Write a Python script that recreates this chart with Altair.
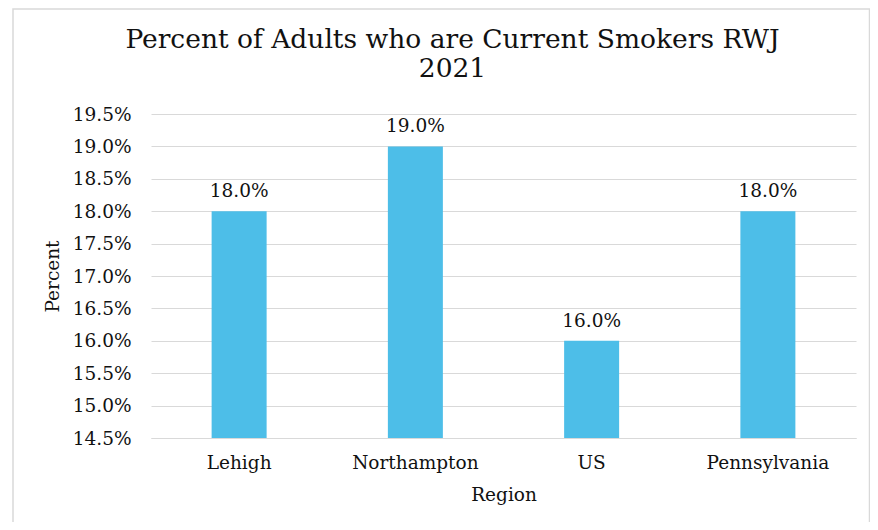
import altair as alt
import pandas as pd

regions = ["Lehigh", "Northampton", "US", "Pennsylvania"]
values = [0.18, 0.19, 0.16, 0.18]
y_ticks = [0.145, 0.15, 0.155, 0.16, 0.165, 0.17, 0.175, 0.18, 0.185, 0.19, 0.195]

df = pd.DataFrame({"Region": regions, "Percent": values})

FONT = "DejaVu Serif"
GRID = "#d9d9d9"
TXT = "#111111"

x_axis = alt.Axis(
    title="Region",
    labelAngle=0,
    ticks=False,
    domainColor=GRID,
    labelPadding=15,
    titleY=62,
    titleBaseline="alphabetic",
)
y_axis = alt.Axis(
    title="Percent",
    values=y_ticks,
    format=".1%",
    domain=False,
    ticks=False,
    gridColor=GRID,
    labelPadding=20,
    labelOverlap=False,
    titleX=-93,
    titleY=162,
    titleAngle=-90,
    titleBaseline="alphabetic",
)
x_scale = alt.Scale(paddingInner=0, paddingOuter=0)
y_scale = alt.Scale(domain=[0.145, 0.195], clamp=True, zero=False, nice=False)

base = alt.Chart(df)

bars = base.mark_bar(width=55, color="#4DBEE8").encode(
    x=alt.X("Region:N", sort=regions, scale=x_scale, axis=x_axis),
    y=alt.Y("Percent:Q", scale=y_scale, axis=y_axis),
)

labels = base.mark_text(
    font=FONT, fontSize=18.5, color=TXT, baseline="alphabetic", dy=-14
).encode(
    x=alt.X("Region:N", sort=regions, scale=x_scale, axis=x_axis),
    y=alt.Y("Percent:Q", scale=y_scale, axis=y_axis),
    text=alt.Text("Percent:Q", format=".1%"),
)

frame = alt.Chart(pd.DataFrame({"f": [0]})).mark_rect(
    fill=None, stroke=GRID, strokeWidth=1.5
).encode(
    x=alt.value(-138),
    x2=alt.value(718.5),
    y=alt.value(-105),
    y2=alt.value(430),
)

chart = (
    alt.layer(frame, bars, labels)
    .properties(
        width=705,
        height=324,
        background="white",
        padding={"left": 143, "top": 106, "right": 14, "bottom": 84},
        autosize=alt.AutoSizeParams(type="none"),
        title=alt.TitleParams(
            text=["Percent of Adults who are Current Smokers RWJ", "2021"],
            font=FONT,
            fontSize=26.5,
            fontWeight="normal",
            color=TXT,
            anchor="middle",
            dx=-51,
            dy=78,
            lineHeight=29,
        ),
    )
    .configure_view(stroke=None)
    .configure_axis(
        labelFont=FONT,
        labelFontSize=18.5,
        labelColor=TXT,
        titleFont=FONT,
        titleFontSize=18.5,
        titleFontWeight="normal",
        titleColor=TXT,
    )
)

chart.save("out.html", embed_options={"renderer": "svg", "actions": False})
